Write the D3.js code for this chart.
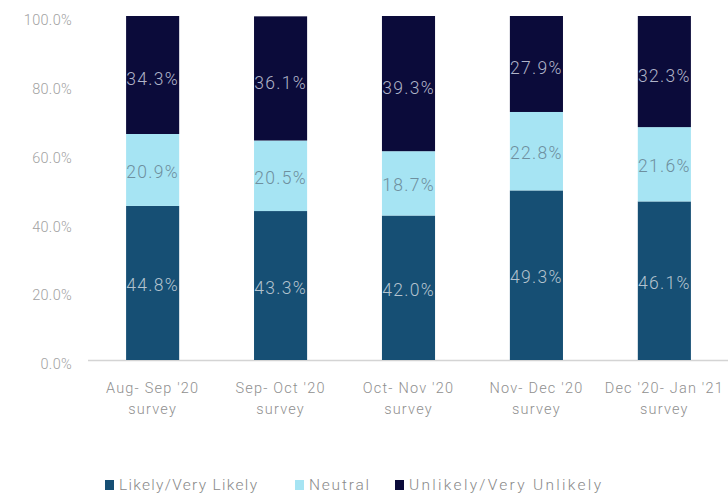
<!DOCTYPE html>
<html><head><meta charset="utf-8">
<script src="https://cdn.jsdelivr.net/npm/d3@7"></script>
<style>body{margin:0;background:#fff;} text{font-family:Roboto, "Noto Sans", sans-serif;font-weight:300;}</style>
</head><body><svg id="c" width="728" height="501"></svg>
<script>
const categories = [["Aug- Sep '20","survey"],["Sep- Oct '20","survey"],["Oct- Nov '20","survey"],["Nov- Dec '20","survey"],["Dec '20- Jan '21","survey"]];
const seriesNames = ["Likely/Very Likely","Neutral","Unlikely/Very Unlikely"];
const likely = [44.8, 43.3, 42.0, 49.3, 46.1];
const neutral = [20.9, 20.5, 18.7, 22.8, 21.6];
const unlikely = [34.3, 36.1, 39.3, 27.9, 32.3];
const yTicks = [0, 20, 40, 60, 80, 100];

const colors = ["#164f74", "#a6e4f3", "#0b0b3a"];
const labelColors = ["#b4c3cf", "#6e8f9e", "#b0b4c8"];
const svg = d3.select("#c");
const x = d3.scaleBand().domain(d3.range(categories.length)).range([89, 728]).paddingInner(0.585).paddingOuter(0.29);
const y = d3.scaleLinear().domain([0, 100]).range([360, 16]);

const rows = categories.map((c, i) => ({i, Likely: likely[i], Neutral: neutral[i], Unlikely: unlikely[i]}));
const stack = d3.stack().keys(["Likely","Neutral","Unlikely"])(rows);

// y axis labels
const yAxis = d3.axisLeft(y).tickValues(yTicks).tickFormat(d => d.toFixed(1) + "%").tickSize(0).tickPadding(0);
const ga = svg.append("g").attr("transform", "translate(72,4)").call(yAxis);
ga.select(".domain").remove();
ga.selectAll("text").attr("fill", "#a2a2a2").attr("font-size", 14.5).style("font-family", "Roboto, sans-serif").style("font-weight", 300).attr("letter-spacing", 0.3);

// baseline
svg.append("line").attr("x1", 88).attr("x2", 728).attr("y1", y(0) + 0.5).attr("y2", y(0) + 0.5).attr("stroke", "#d4d4d4").attr("stroke-width", 1.5);

const defs = svg.append("defs");
stack.forEach((s, k) => {
  s.forEach((d, i) => {
    const id = `clip-${k}-${i}`;
    defs.append("clipPath").attr("id", id).append("rect")
      .attr("x", x(i)).attr("width", x.bandwidth()).attr("y", y(d[1])).attr("height", y(d[0]) - y(d[1]));
  });
});
const layers = svg.selectAll("g.layer").data(stack).join("g").attr("class", "layer");
layers.each(function(s, k) {
  const g = d3.select(this);
  g.selectAll("rect").data(s).join("rect")
    .attr("x", (d, i) => x(i)).attr("width", x.bandwidth())
    .attr("y", d => y(d[1])).attr("height", d => y(d[0]) - y(d[1]))
    .attr("fill", colors[k]);
  g.selectAll("text").data(s).join("text")
    .attr("clip-path", (d, i) => k === 1 ? null : `url(#clip-${k}-${i})`)
    .attr("x", (d, i) => x(i) + x.bandwidth() / 2)
    .attr("y", d => y((d[0] + d[1]) / 2) + (k === 2 ? 4 : 2))
    .attr("dy", "0.35em").attr("text-anchor", "middle")
    .attr("fill", labelColors[k]).attr("font-size", 17.5).attr("letter-spacing", 1.3)
    .text(d => (d[1] - d[0]).toFixed(1) + "%");
});

// x labels
const xl = svg.append("g");
categories.forEach((c, i) => {
  const t = xl.append("text").attr("x", x(i) + x.bandwidth() / 2).attr("y", 393)
    .attr("text-anchor", "middle").attr("fill", "#8f8f8f").attr("font-size", 14.5).attr("letter-spacing", 1.2);
  c.forEach((line, j) => t.append("tspan").attr("x", x(i) + x.bandwidth() / 2).attr("dy", j === 0 ? 0 : 21).text(line));
});

// legend
const legendX = [105, 295, 395];
const legendLen = [138, 60, 192];
const lg = svg.append("g");
seriesNames.forEach((n, k) => {
  lg.append("rect").attr("x", legendX[k]).attr("y", 480).attr("width", 9).attr("height", 10).attr("fill", colors[k]);
  lg.append("text").attr("x", legendX[k] + 14).attr("y", 490).attr("fill", "#8a8a8a").attr("font-size", 15.5)
    .attr("textLength", legendLen[k]).attr("lengthAdjust", "spacing").text(n);
});
</script></body></html>
